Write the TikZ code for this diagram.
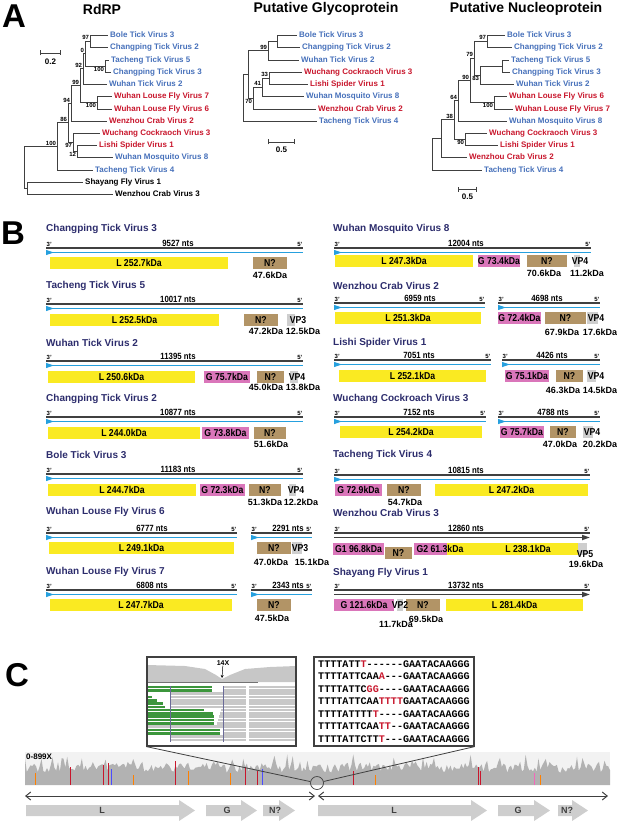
\documentclass[tikz,border=0pt]{standalone}
\usepackage{fontspec}
\setmainfont{Liberation Sans}
\setmonofont{Liberation Mono}
\newfontfamily\narrowfont{Liberation Sans}[FakeStretch=0.87]
\usepackage{xcolor}
\usepackage{tikz}
\usetikzlibrary{positioning}
\usetikzlibrary{arrows.meta}
\usetikzlibrary{calc}

\definecolor{tickblue}{RGB}{70,112,186}
\definecolor{insectred}{RGB}{200,22,44}
\definecolor{titlenavy}{RGB}{44,44,108}
\definecolor{strandblue}{RGB}{38,160,222}
\definecolor{orfyellow}{RGB}{250,234,34}
\definecolor{orfpink}{RGB}{218,118,186}
\definecolor{orfbrown}{RGB}{178,148,102}
\definecolor{orfgray}{RGB}{206,206,206}
\definecolor{lineblack}{RGB}{64,64,64}
\definecolor{covgray}{RGB}{178,178,178}
\definecolor{readgray}{RGB}{200,200,200}
\definecolor{readgreen}{RGB}{60,150,60}

\tikzstyle{panel}=[font=\fontsize{33}{36}\selectfont\bfseries,inner sep=0pt]
\tikzstyle{treetitle}=[font=\fontsize{14}{16}\selectfont\bfseries,inner sep=0pt]
\tikzstyle{leaf}=[anchor=west,inner sep=2pt,font=\fontsize{8}{9}\selectfont\bfseries]
\tikzstyle{branch}=[draw=lineblack,line width=0.9pt]
\tikzstyle{boot}=[inner sep=0.8pt,font=\fontsize{6}{7}\selectfont\bfseries]
\tikzstyle{scalebar}=[draw=lineblack,line width=0.9pt,{Bar[width=5pt]}-{Bar[width=5pt]}]
\tikzstyle{scalelbl}=[inner sep=0pt,font=\fontsize{8}{9}\selectfont\bfseries]
\tikzset{virtitle/.style={anchor=west,inner sep=0pt,text=titlenavy,font=\fontsize{10}{12}\selectfont\bfseries},
  genome/.style={draw=lineblack,line width=1.6pt},
  strand/.style={draw=strandblue,line width=1.1pt,{Triangle[reversed,length=8pt,width=5pt]}-},
  endlbl/.style={inner sep=0.5pt,font=\fontsize{6}{7}\selectfont\bfseries},
  ntslbl/.style={anchor=south,inner sep=0.5pt,font=\narrowfont\fontsize{9}{10}\selectfont\bfseries},
  orf/.style={rectangle,minimum height=12pt,inner sep=0pt,font=\narrowfont\fontsize{10}{11}\selectfont\bfseries},
  orftxt/.style={inner sep=0pt,font=\narrowfont\fontsize{10}{11}\selectfont\bfseries},
  kda/.style={inner sep=0pt,font=\fontsize{9}{10}\selectfont\bfseries},
  genearrow/.style={fill=orfgray},
  genelbl/.style={inner sep=0pt,text=lineblack,font=\fontsize{9}{10}\selectfont\bfseries},
  zoomline/.style={draw=lineblack,line width=0.8pt}}

\begin{document}
\begin{tikzpicture}[x=1pt,y=-1pt]
  \useasboundingbox (0,0) rectangle (617,821);

  \node[panel] (pA) at (14,16) {A};
  \node[panel] (pB) at (13,233) {B};
  \node[panel] (pC) at (17,675) {C};

  \node[treetitle] (tRdRP) at (102,9) {RdRP};
  \node[treetitle] (tGP) at (326,9) {Putative Glycoprotein};
  \node[treetitle] (tNP) at (526,9) {Putative Nucleoprotein};

  % RdRP tree
  \foreach \x/\y/\name/\col/\label in {110/35/rl1/tickblue/Bole Tick Virus 3, 110/47/rl2/tickblue/Changping Tick Virus 2,
      111/60/rl3/tickblue/Tacheng Tick Virus 5, 113/72/rl4/tickblue/Changping Tick Virus 3, 109/84/rl5/tickblue/Wuhan Tick Virus 2,
      114/96/rl6/insectred/Wuhan Louse Fly Virus 7, 114/109/rl7/insectred/Wuhan Louse Fly Virus 6, 109/121/rl8/insectred/Wenzhou Crab Virus 2,
      102/133/rl9/insectred/Wuchang Cockraoch Virus 3, 99/145/rl10/insectred/Lishi Spider Virus 1, 115/157/rl11/tickblue/Wuhan Mosquito Virus 8,
      95/170/rl12/tickblue/Tacheng Tick Virus 4, 85/182/rl13/black/Shayang Fly Virus 1, 115/194/rl14/black/Wenzhou Crab Virus 3}
    \node[leaf,text=\col] (\name) at (\x-2,\y) {\label};

  \foreach \x/\y/\name in {90/41/rn1, 105/66/rn2, 85/53.5/rn3, 83/68.75/rn4, 97/102.5/rn5, 80/85.6/rn6, 71/103.3/rn7,
      77/151/rn8, 73/142/rn9, 68/122.7/rn10, 57/146.3/rn11, 27/188/rn12, 24/167/rroot}
    \coordinate (\name) at (\x,\y);

  \foreach \source/\dest in {rn1/rl1, rn1/rl2, rn2/rl3, rn2/rl4, rn3/rn1, rn3/rn2, rn4/rn3, rn4/rl5, rn5/rl6, rn5/rl7,
      rn6/rn4, rn6/rn5, rn7/rn6, rn7/rl8, rn8/rl10, rn8/rl11, rn9/rl9, rn9/rn8, rn10/rn7, rn10/rn9,
      rn11/rn10, rn11/rl12, rn12/rl13, rn12/rl14, rroot/rn11, rroot/rn12}
    \draw[branch] (\source) |- (\dest);

  \foreach \name/\anc/\val in {rn1/south east/97, rn2/north east/100, rn3/south east/0, rn4/south east/92, rn5/north east/100,
      rn6/south east/99, rn7/south east/94, rn8/north east/12, rn9/north east/97, rn10/south east/86, rn11/south east/100}
    \node[boot,anchor=\anc] at (\name) {\val};

  \coordinate (sbRa) at (40,53);
  \coordinate (sbRb) at (61,53);
  \draw[scalebar] (sbRa) -- (sbRb);
  \node[scalelbl] at (50.5,62) {0.2};

  % glycoprotein tree
  \foreach \x/\y/\name/\col/\label in {299/35/gl1/tickblue/Bole Tick Virus 3, 302/47/gl2/tickblue/Changping Tick Virus 2,
      301/60/gl3/tickblue/Wuhan Tick Virus 2, 304/72/gl4/insectred/Wuchang Cockraoch Virus 3, 310/84/gl5/insectred/Lishi Spider Virus 1,
      306/96/gl6/tickblue/Wuhan Mosquito Virus 8, 318/109/gl7/insectred/Wenzhou Crab Virus 2, 319/121/gl8/tickblue/Tacheng Tick Virus 4}
    \node[leaf,text=\col] (\name) at (\x-2,\y) {\label};

  \foreach \x/\y/\name in {277/41/gn1, 268/50.5/gn2, 269/78/gn3, 262/87/gn4, 253/98/gn5, 248/74.3/gn6, 243/97.7/groot}
    \coordinate (\name) at (\x,\y);

  \foreach \source/\dest in {gn1/gl1, gn1/gl2, gn2/gn1, gn2/gl3, gn3/gl4, gn3/gl5, gn4/gn3, gn4/gl6,
      gn5/gn4, gn5/gl7, gn6/gn2, gn6/gn5, groot/gn6, groot/gl8}
    \draw[branch] (\source) |- (\dest);

  \foreach \name/\anc/\val in {gn2/south east/99, gn3/south east/33, gn4/south east/41, gn5/north east/70}
    \node[boot,anchor=\anc] at (\name) {\val};

  \coordinate (sbGa) at (268,142);
  \coordinate (sbGb) at (295,142);
  \draw[scalebar] (sbGa) -- (sbGb);
  \node[scalelbl] at (281.5,150) {0.5};

  % nucleoprotein tree
  \foreach \x/\y/\name/\col/\label in {507/35/pl1/tickblue/Bole Tick Virus 3, 514/47/pl2/tickblue/Changping Tick Virus 2,
      511/60/pl3/tickblue/Tacheng Tick Virus 5, 512/72/pl4/tickblue/Changping Tick Virus 3, 516/84/pl5/tickblue/Wuhan Tick Virus 2,
      509/96/pl6/insectred/Wuhan Louse Fly Virus 6, 515/109/pl7/insectred/Wuhan Louse Fly Virus 7, 509/121/pl8/tickblue/Wuhan Mosquito Virus 8,
      489/133/pl9/insectred/Wuchang Cockraoch Virus 3, 500/145/pl10/insectred/Lishi Spider Virus 1, 469/157/pl11/insectred/Wenzhou Crab Virus 2,
      484/170/pl12/tickblue/Tacheng Tick Virus 4}
    \node[leaf,text=\col] (\name) at (\x-2,\y) {\label};

  \foreach \x/\y/\name in {487/41/pn1, 502/66/pn2, 480/75/pn3, 474/58/pn4, 494/102.5/pn5, 470/80.2/pn6, 458/100.6/pn7,
      465/139/pn8, 454/119.8/pn9, 441/138.4/pn10, 432/154.2/proot}
    \coordinate (\name) at (\x,\y);

  \foreach \source/\dest in {pn1/pl1, pn1/pl2, pn2/pl3, pn2/pl4, pn3/pn2, pn3/pl5, pn4/pn1, pn4/pn3, pn5/pl6, pn5/pl7,
      pn6/pn4, pn6/pn5, pn7/pn6, pn7/pl8, pn8/pl9, pn8/pl10, pn9/pn7, pn9/pn8, pn10/pn9, pn10/pl11, proot/pn10, proot/pl12}
    \draw[branch] (\source) |- (\dest);

  \foreach \name/\anc/\val in {pn1/south east/97, pn3/north east/83, pn4/south east/79, pn5/north east/100, pn6/south east/90,
      pn7/south east/64, pn8/north east/90, pn9/south east/38}
    \node[boot,anchor=\anc] at (\name) {\val};

  \coordinate (sbPa) at (458,189);
  \coordinate (sbPb) at (477,189);
  \draw[scalebar] (sbPa) -- (sbPb);
  \node[scalelbl] at (467.5,197) {0.5};

  % genome maps
  \foreach \x/\y/\name/\label in {46/229/tA/Changping Tick Virus 3, 46/286/tB/Tacheng Tick Virus 5, 46/343/tC/Wuhan Tick Virus 2,
      46/399/tD/Changping Tick Virus 2, 46/455/tE/Bole Tick Virus 3, 46/512/tF/Wuhan Louse Fly Virus 6, 46/572/tG/Wuhan Louse Fly Virus 7,
      333/229/tH/Wuhan Mosquito Virus 8, 333/286/tI/Wenzhou Crab Virus 2, 333/343/tJ/Lishi Spider Virus 1,
      333/399/tK/Wuchang Cockroach Virus 3, 333/455/tL/Tacheng Tick Virus 4, 333/513/tM/Wenzhou Crab Virus 3, 333/573/tN/Shayang Fly Virus 1}
    \node[virtitle] (\name) at (\x,\y) {\label};

  \foreach \xa/\xb/\yy/\xn/\nts in {46/303/248/178/9527, 46/303/304/178/10017, 46/303/361/178/11395, 46/303/417/178/10877,
      46/303/474/178/11183, 46/237/533/152/6777, 251/312/533/288/2291, 46/237/590/152/6808, 251/312/590/288/2343,
      334/591/248/466/12004, 334/485/303/420/6959, 498/600/303/547/4698, 334/491/360/419/7051, 502/600/360/552/4426,
      334/486/417/419/7152, 498/600/417/553/4788, 334/590/475/466/10815}
  {
    \draw[genome] (\xa,\yy) -- (\xb,\yy);
    \draw[strand] (\xa,{\yy+4.5}) -- (\xb,{\yy+4.5});
    \node[endlbl,anchor=south west] at (\xa,{\yy-1}) {3'};
    \node[endlbl,anchor=south east] at (\xb,{\yy-1}) {5'};
    \node[ntslbl] at (\xn,{\yy-1}) {\nts\ nts};
  }

  \foreach \xa/\xb/\yy/\xn/\nts in {334/590/533/466/12860, 334/590/590/466/13732}
  {
    \draw[genome] (\xa,\yy) -- (\xb,\yy);
    \draw[genome,-{Triangle[length=8pt,width=5pt]}] (\xa,{\yy+4.5}) -- (\xb,{\yy+4.5});
    \node[endlbl,anchor=south west] at (\xa,{\yy-1}) {3'};
    \node[endlbl,anchor=south east] at (\xb,{\yy-1}) {5'};
    \node[ntslbl] at (\xn,{\yy-1}) {\nts\ nts};
  }

  \foreach \xa/\xb/\yt/\name/\col/\txt in {50/228/257/ctv3L/orfyellow/L 252.7kDa, 253/287/257/ctv3N/orfbrown/N?,
      50/219/314/ttv5L/orfyellow/L 252.5kDa, 244/278/314/ttv5N/orfbrown/N?, 287/295/314/ttv5V/orfgray/{},
      48/195/371/wtv2L/orfyellow/L 250.6kDa, 204/250/371/wtv2G/orfpink/G 75.7kDa, 257/284/371/wtv2N/orfbrown/N?, 290/298/371/wtv2V/orfgray/{},
      48/200/427/ctv2L/orfyellow/L 244.0kDa, 202/249/427/ctv2G/orfpink/G 73.8kDa, 254/286/427/ctv2N/orfbrown/N?,
      48/196/484/btv3L/orfyellow/L 244.7kDa, 200/245/484/btv3G/orfpink/G 72.3kDa, 249/281/484/btv3N/orfbrown/N?, 289/296/484/btv3V/orfgray/{},
      49/234/542/wlf6L/orfyellow/L 249.1kDa, 257/291/542/wlf6N/orfbrown/N?, 292/302/542/wlf6V/orfgray/{},
      50/232/599/wlf7L/orfyellow/L 247.7kDa, 257/291/599/wlf7N/orfbrown/N?,
      335/473/255/wmv8L/orfyellow/L 247.3kDa, 478/520/255/wmv8G/orfpink/G 73.4kDa, 527/567/255/wmv8N/orfbrown/N?, 574/580/255/wmv8V/orfgray/{},
      335/481/312/wzc2L/orfyellow/L 251.3kDa, 498/541/312/wzc2G/orfpink/G 72.4kDa, 545/586/312/wzc2N/orfbrown/N?, 587/598/312/wzc2V/orfgray/{},
      339/486/370/lsv1L/orfyellow/L 252.1kDa, 505/549/370/lsv1G/orfpink/G 75.1kDa, 556/583/370/lsv1N/orfbrown/N?, 587/596/370/lsv1V/orfgray/{},
      340/482/426/wcc3L/orfyellow/L 254.2kDa, 500/544/426/wcc3G/orfpink/G 75.7kDa, 550/576/426/wcc3N/orfbrown/N?, 583/593/426/wcc3V/orfgray/{},
      335/382/484/ttv4G/orfpink/G 72.9kDa, 387/421/484/ttv4N/orfbrown/N?, 435/588/484/ttv4L/orfyellow/L 247.2kDa,
      333/384/543/wzc3G/orfpink/G1 96.8kDa, 414/447/543/wzc3H/orfpink/{}, 447/579/543/wzc3L/orfyellow/{}, 578/587/543/wzc3V/orfgray/{},
      385/412/547/wzc3N/orfbrown/N?,
      334/394/599/sfv1G/orfpink/G 121.6kDa, 397/403/599/sfv1V/orfgray/{}, 406/440/599/sfv1N/orfbrown/N?, 446/583/599/sfv1L/orfyellow/L 281.4kDa}
    \node[orf,fill=\col,minimum width={(\xb-\xa)*1pt}] (\name) at ({(\xa+\xb)/2},{\yt+6}) {\txt};

  \foreach \x/\y/\txt in {298/320/VP3, 297/377/VP4, 296/490/VP4, 300/548/VP3, 580/261/VP4, 596/318/VP4, 596/376/VP4,
      592/432/VP4, 585/554/VP5, 400/605/VP2, 440/549/G2 61.3kDa, 528/549/L 238.1kDa}
    \node[orftxt] at (\x,\y) {\txt};

  \foreach \x/\y/\txt in {270/275/47.6kDa, 266/331/47.2kDa, 303/331/12.5kDa, 266/387/45.0kDa, 303/387/13.8kDa,
      271/444/51.6kDa, 265/502/51.3kDa, 301/502/12.2kDa, 271/562/47.0kDa, 312/562/15.1kDa, 272/618/47.5kDa,
      544/273/70.6kDa, 587/273/11.2kDa, 562/332/67.9kDa, 600/332/17.6kDa, 563/390/46.3kDa, 600/390/14.5kDa,
      560/444/47.0kDa, 600/444/20.2kDa, 405/502/54.7kDa, 586/564/19.6kDa, 426/619/69.5kDa, 396/624/11.7kDa}
    \node[kda] at (\x,\y) {\txt};

  % coverage track
  \fill[black!5] (25,752) rectangle (610,785);
  \pgfmathsetseed{17}
  \fill[covgray] (25,785) -- plot[domain=25:610,samples=320,variable=\t] (\t,{773-9*rnd-11*pow(rnd,5)}) -- (610,785) -- cycle;
  \foreach \x/\h/\col in {35/12/orange, 70/18/insectred, 103/20/insectred, 108/22/insectred, 111/16/blue!70, 133/10/orange,
      175/24/insectred, 188/14/orange, 230/12/orange, 245/18/insectred, 257/14/insectred, 262/16/blue!70,
      353/14/insectred, 375/10/orange, 478/18/insectred, 480/14/insectred, 534/12/magenta!60, 540/10/orange}
    \draw[draw=\col,line width=0.6pt] (\x,785) -- (\x,{785-\h});
  \node[anchor=west,inner sep=0pt,font=\fontsize{8}{9}\selectfont\bfseries] (covscale) at (26,757) {0-899X};
  \node[draw=lineblack,circle,line width=0.7pt,minimum size=13pt,inner sep=0pt] (zoomspot) at (317,783) {};

  % read pile-up inset
  \begin{scope}
    \clip (147,657) rectangle (296,746);
    \fill[black!22] (147,682) -- (147,665) -- (185,666) -- (205,669) -- (216,675) -- (222,679) -- (230,675)
      -- (245,669) -- (270,667) -- (296,666) -- (296,682) -- cycle;
    \draw[black!55,line width=0.8pt] (147,682) -- (258,682);
    \foreach \yy/\gb/\ra in {687/212/223, 690.3/212/223, 693.6/147/170, 696.9/152/170, 700.2/157/170, 703.5/163/170,
        706.8/165/170, 710.1/204/221, 713.4/213/220, 716.7/214/219, 720/214/218, 723.3/214/217, 726.6/147/147,
        729.9/220/224, 733.2/220/224, 736.5/147/170, 739.8/147/170}
    {
      \fill[readgreen] (147,{\yy-1.3}) rectangle (\gb,{\yy+1.3});
      \fill[readgray] (\ra,{\yy-1.3}) rectangle (296,{\yy+1.3});
    }
    \fill[white] (246,686) rectangle (249,742);
    \draw[titlenavy!70,line width=0.5pt] (170,686) -- (170,742);
    \draw[titlenavy!70,line width=0.5pt] (223,686) -- (223,742);
  \end{scope}
  \node[draw=lineblack,line width=1.2pt,minimum width=149pt,minimum height=89pt,inner sep=0pt] (covbox) at (221.5,701.5) {};
  \node[inner sep=0pt,font=\fontsize{7}{8}\selectfont\bfseries] (cov14) at (223,663) {14X};
  \coordinate (dip) at (222,678);
  \draw[-{Stealth[length=3pt,width=3pt]},line width=0.5pt] (cov14) -- (dip);

  % insertion sequences
  \node[draw=lineblack,line width=1.2pt,minimum width=160pt,minimum height=89pt,inner sep=0pt,align=left,
      font=\fontsize{10.1}{12.5}\selectfont\ttfamily\bfseries] (seqbox) at (394,701.5)
    {TTTTATT\textcolor{insectred}{T}------GAATACAAGGG\\
     TTTTATTCAA\textcolor{insectred}{A}---GAATACAAGGG\\
     TTTTATTC\textcolor{insectred}{GG}----GAATACAAGGG\\
     TTTTATTCAA\textcolor{insectred}{TTTT}GAATACAAGGG\\
     TTTTATTTT\textcolor{insectred}{T}----GAATACAAGGG\\
     TTTTATTCAA\textcolor{insectred}{TT}--GAATACAAGGG\\
     TTTTATTCTT\textcolor{insectred}{T}---GAATACAAGGG};

  \draw[zoomline] (covbox.south west) -- (zoomspot);
  \draw[zoomline] (seqbox.south east) -- (zoomspot);

  % segments and genes
  \coordinate (segLa) at (25,796);
  \coordinate (segLb) at (315,796);
  \coordinate (segRa) at (318,796);
  \coordinate (segRb) at (608,796);
  \draw[draw=lineblack,line width=1pt,{Straight Barb[length=5pt,width=8pt]}-{Straight Barb[length=5pt,width=8pt]}] (segLa) -- (segLb);
  \draw[draw=lineblack,line width=1pt,{Straight Barb[length=5pt,width=8pt]}-{Straight Barb[length=5pt,width=8pt]}] (segRa) -- (segRb);

  \foreach \xa/\xb/\xl/\name/\txt in {26/195/102/gL1/L, 206/257/227/gG1/G, 263/295/275/gN1/N?,
      318/487/394/gL2/L, 498/550/518/gG2/G, 558/588/567/gN2/N?}
  {
    \fill[genearrow] (\xa,805) -- ({\xb-16},805) -- ({\xb-16},800) -- (\xb,810.5) -- ({\xb-16},821) -- ({\xb-16},816) -- (\xa,816) -- cycle;
    \node[genelbl] (\name) at (\xl,810.5) {\txt};
  }

\end{tikzpicture}
\end{document}
